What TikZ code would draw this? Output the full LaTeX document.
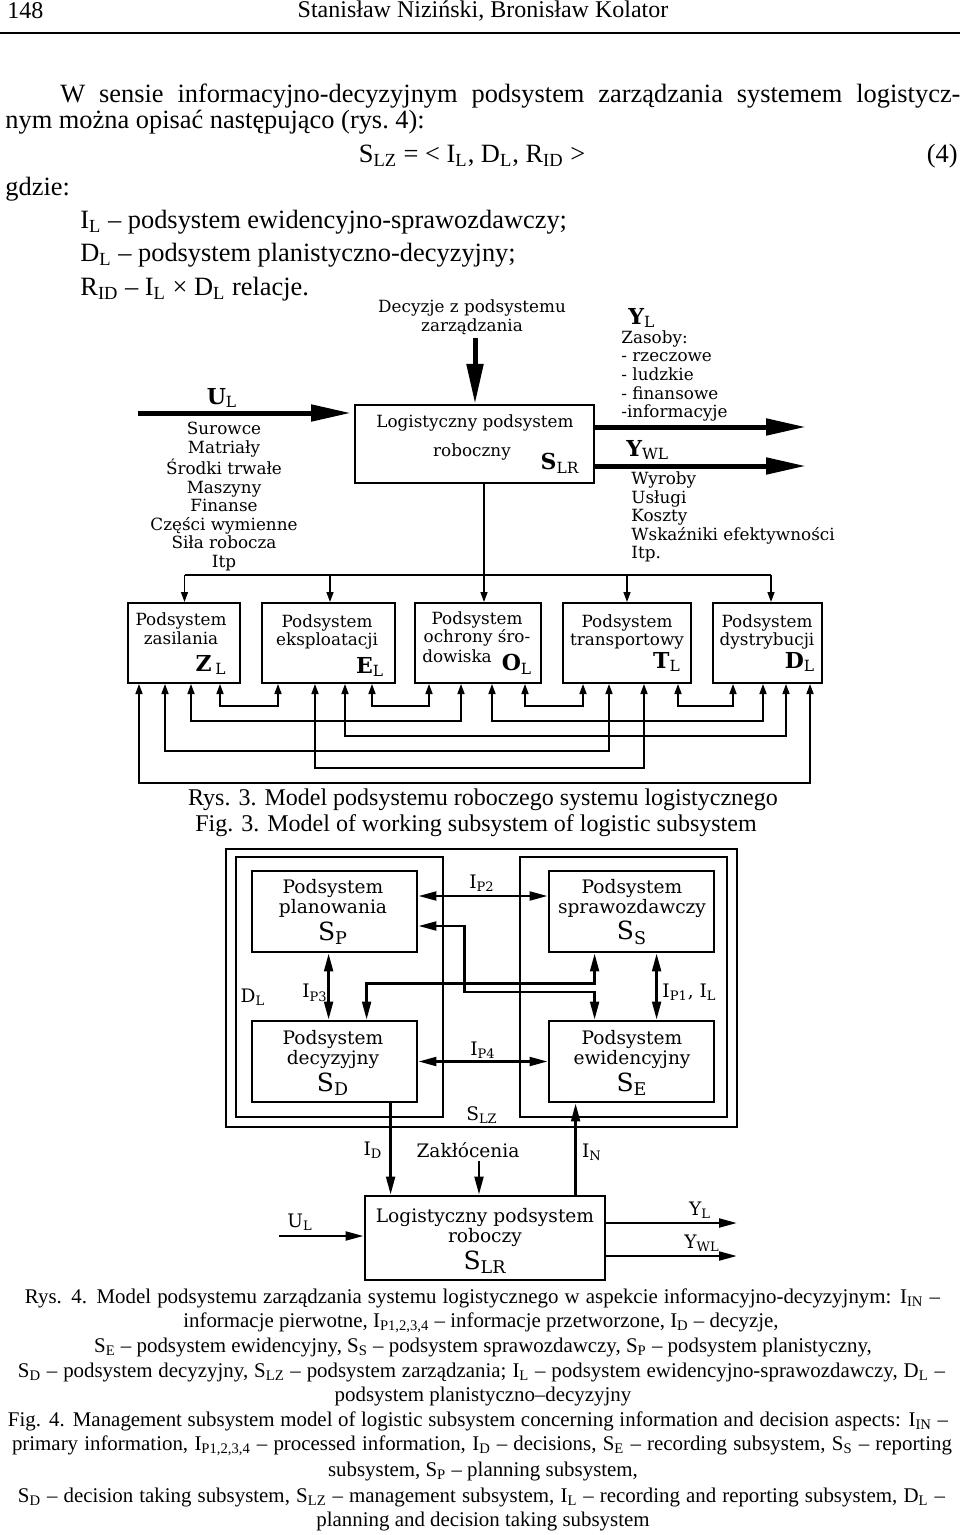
\documentclass[tikz,border=0pt]{standalone}
\usepackage{fontspec}
\setmainfont{Liberation Serif}
\newfontfamily\figfont{DejaVu Serif}
\usetikzlibrary{arrows.meta, calc, positioning}
\newcommand\lsub[1]{\textsubscript{#1}}

\tikzset {
    page text/.style = {inner sep = 0pt, font = \fontsize{13.2}{15}\selectfont},
    head text/.style = {inner sep = 0pt, font = \fontsize{12}{14}\selectfont},
    caption text/.style = {inner sep = 0pt, font = \fontsize{12}{14}\selectfont},
    legend text/.style = {inner sep = 0pt, font = \fontsize{10.45}{12}\selectfont},
    fig text/.style = {inner sep = 0pt, font = \figfont\fontsize{8.4}{9.3}\selectfont},
    fig mark/.style = {inner sep = 0pt, font = \figfont\bfseries\fontsize{11}{13}\selectfont},
    info text/.style = {inner sep = 0pt, font = \figfont\fontsize{9.3}{10}\selectfont},
    big mark/.style = {inner sep = 0pt, font = \figfont\fontsize{12.5}{14}\selectfont},
    work box/.style = {draw, line width = 1pt, inner sep = 0pt},
    info box/.style = {draw, line width = 1.4pt, inner sep = 0pt},
    big arrow/.style = {line width = 2.5pt, -{Triangle[length = 20pt, width = 8pt]}},
    bus line/.style = {line width = 0.75pt},
    bus arrow/.style = {line width = 0.75pt, -{Triangle[length = 5pt, width = 3.5pt]}},
    link arrow/.style = {
        line width = 0.75pt,
        {Triangle[length = 5pt, width = 3.5pt]}-{Triangle[length = 5pt, width = 3.5pt]}
    },
    info arrow/.style = {
        line width = 1.3pt,
        {Triangle[length = 9pt, width = 4.4pt]}-{Triangle[length = 9pt, width = 4.4pt]}
    },
    flow arrow/.style = {line width = 1.3pt, -{Triangle[length = 9pt, width = 4.4pt]}}
}

\begin{document}
\begin{tikzpicture}[x = 0.5pt, y = -0.5pt]
    \useasboundingbox[fill = white] (0, 0) rectangle (960, 1535);
    % page head and text
    \node[head text, anchor = west] (pnum) at (7, 11) {148};
    \node[head text] (pauth) at (483, 11) {Stanisław Niziński, Bronisław Kolator};
    \draw[line width = 0.8pt] (0, 33) -- (960, 33);
    \node[page text, anchor = west] (par1) at (60, 96)
        {\makebox[450pt][s]{W sensie informacyjno-decyzyjnym podsystem zarządzania systemem logistycz-}};
    \node[page text, anchor = west] (par2) at (5, 122) {nym można opisać następująco (rys.~4):};
    \node[page text] (eq) at (472, 156) {S\lsub{LZ} = < I\lsub{L}, D\lsub{L}, R\lsub{ID} >};
    \node[page text, anchor = east] (eqno) at (958, 156) {(4)};
    \node[page text, anchor = west] (gdzie) at (5, 189) {gdzie:};
    \node[page text, anchor = west] (def1) at (80, 222) {I\lsub{L} – podsystem ewidencyjno-sprawozdawczy;};
    \node[page text, anchor = west] (def2) at (80, 255) {D\lsub{L} – podsystem planistyczno-decyzyjny;};
    \node[page text, anchor = west] (def3) at (80, 289) {R\lsub{ID} – I\lsub{L} × D\lsub{L} relacje.};

    % rys. 3
    \node[fig text, align = center] (dec) at (472, 317) {Decyzje z podsystemu\\zarządzania};
    \node[work box, minimum width = 119.5pt, minimum height = 39pt] (slr) at (474.5, 444) {};
    \node[fig text] (slr1) at (475, 423) {Logistyczny podsystem};
    \node[fig text] (slr2) at (472, 452) {roboczny};
    \node[fig mark] (slrm) at (560, 463) {S\lsub{\mdseries LR}};
    \coordinate (dectop) at (475, 338);
    \draw[big arrow] (dectop) -- (dectop |- slr.north);
    % wejscie
    \node[fig mark] (ulm) at (222, 398) {U\lsub{\mdseries L}};
    \coordinate (uin) at (138, 413);
    \draw[big arrow] (uin) -- ([xshift = -1.5pt]uin -| slr.west);
    \node[fig text, align = center] (ulist) at (224, 496.5)
        {Surowce\\Matriały\\Środki trwałe\\Maszyny\\Finanse\\Części wymienne\\Siła robocza\\Itp};
    % wyjscia
    \coordinate (ylout) at (806, 427);
    \coordinate (ywout) at (806, 466);
    \draw[big arrow] (slr.east |- ylout) -- (ylout);
    \draw[big arrow] (slr.east |- ywout) -- (ywout);
    \node[fig mark, anchor = west] (ylm) at (628, 318) {Y\lsub{\mdseries L}};
    \node[fig text, anchor = west, align = left] (ylist) at (621, 376)
        {Zasoby:\\- rzeczowe\\- ludzkie\\- finansowe\\-informacyje};
    \node[fig mark, anchor = west] (ywm) at (626, 450) {Y\lsub{\mdseries WL}};
    \node[fig text, anchor = west, align = left] (ywlist) at (631, 517)
        {Wyroby\\Usługi\\Koszty\\Wskaźniki efektywności\\Itp.};

    % podsystemy
    \node[work box, minimum width = 56pt, minimum height = 40pt] (zas) at (184, 643) {};
    \node[work box, minimum width = 66.5pt, minimum height = 40pt] (eks) at (328.5, 643) {};
    \node[work box, minimum width = 63pt, minimum height = 40pt] (och) at (478, 643) {};
    \node[work box, minimum width = 64pt, minimum height = 40pt] (tra) at (627, 643) {};
    \node[work box, minimum width = 54.5pt, minimum height = 40pt] (dys) at (767.5, 643) {};
    \node[fig text, align = center] (zast) at (181, 629) {Podsystem\\zasilania};
    \node[fig mark] (zasm) at (211, 665) {Z\,\lsub{\mdseries L}};
    \node[fig text, align = center] (ekst) at (327, 632) {Podsystem\\eksploatacji};
    \node[fig mark] (eksm) at (370, 667) {E\lsub{\mdseries L}};
    \node[fig text, align = center] (ocht) at (477, 629) {Podsystem\\ochrony śro-};
    \node[fig text] (ocht2) at (457, 656) {dowiska};
    \node[fig mark] (ochm) at (517, 664) {O\lsub{\mdseries L}};
    \node[fig text, align = center] (trat) at (627, 632) {Podsystem\\transportowy};
    \node[fig mark] (tram) at (667, 662) {T\lsub{\mdseries L}};
    \node[fig text, align = center] (dyst) at (767, 632) {Podsystem\\dystrybucji};
    \node[fig mark] (dysm) at (800, 662) {D\lsub{\mdseries L}};

    % szyna decyzji
    \coordinate (bus) at (484, 575);
    \draw[bus line] (slr.south -| bus) -- (bus);
    \draw[bus line] (184.5, 575) -- (771, 575);
    \foreach \b/\x in {zas/184.5, eks/330, och/484, tra/627, dys/771} {
        \coordinate (top) at (\x, 575);
        \draw[bus arrow] (top) -- (top |- \b.north);
    }

    % powiazania dolne
    \foreach \b/\n/\o in {zas/z1/12, zas/z2/38, zas/z3/64, zas/z4/93,
                          eks/e1/17, eks/e2/54, eks/e3/84, eks/e4/111,
                          och/o1/15, och/o2/47, och/o3/78, och/o4/111,
                          tra/t1/21, tra/t2/47, tra/t3/82, tra/t4/116,
                          dys/d1/21, dys/d2/51, dys/d3/74, dys/d4/98}
        \coordinate (\n) at ($(\b.south west)+(\o, 0)$);
    \foreach \a/\c/\d in {z4/e1/22, e4/o1/22, o4/t1/22, t4/d1/22, z3/o2/37,
                          o3/d2/37, e3/d3/52, z2/t2/67, e2/t3/84, z1/d4/99}
        \draw[link arrow] (\a) -- ++(0, \d) -| (\c);

    \node[caption text] (cap3a) at (483, 800) {Rys. 3. Model podsystemu roboczego systemu logistycznego};
    \node[caption text] (cap3b) at (476, 826) {Fig. 3. Model of working subsystem of logistic subsystem};

    % rys. 4
    \node[info box, minimum width = 255.5pt, minimum height = 139pt] (slz) at (481.5, 988) {};
    \node[info box, minimum width = 103.5pt, minimum height = 130pt] (dl) at (339.5, 987) {};
    \node[info box, minimum width = 103.5pt, minimum height = 130pt] (il) at (623.5, 987) {};
    \node[info box, minimum width = 82.5pt, minimum height = 40.5pt] (sp) at (334.5, 911.5) {};
    \node[info box, minimum width = 82.5pt, minimum height = 40.5pt] (ss) at (631.5, 911.5) {};
    \node[info box, minimum width = 82.5pt, minimum height = 40.5pt] (sd) at (334.5, 1061.5) {};
    \node[info box, minimum width = 82.5pt, minimum height = 40.5pt] (se) at (631.5, 1061.5) {};
    \node[info text, align = center] (spt) at (333, 898) {Podsystem\\planowania};
    \node[big mark] (spm) at (333, 933) {S\lsub{P}};
    \node[info text, align = center] (sst) at (632, 898) {Podsystem\\sprawozdawczy};
    \node[big mark] (ssm) at (632, 933) {S\lsub{S}};
    \node[info text, align = center] (sdt) at (333, 1049) {Podsystem\\decyzyjny};
    \node[big mark] (sdm) at (333, 1084) {S\lsub{D}};
    \node[info text, align = center] (set) at (632, 1049) {Podsystem\\ewidencyjny};
    \node[big mark] (sem) at (632, 1084) {S\lsub{E}};

    \draw[info arrow] ($(sp.east)+(0, -15.5)$) -- ($(ss.west)+(0, -15.5)$);
    \node[info text] (ip2) at (482, 883) {I\lsub{P2}};
    \coordinate (ssd) at ($(ss.south west)+(47, 0)$);
    \coordinate (sdn) at ($(sd.north west)+(116, 0)$);
    \draw[info arrow] (ssd) -- ++(0, 30) -| (sdn);
    \coordinate (spe) at ($(sp.east)+(0, 14.5)$);
    \coordinate (sen) at ($(se.north west)+(47, 0)$);
    \draw[info arrow] (spe) -- ++(46, 0) -- ++(0, 66) -| (sen);
    \draw[info arrow] ($(sp.south west)+(78, 0)$) -- ($(sd.north west)+(78, 0)$);
    \node[info text] (ip3) at (315, 993) {I\lsub{P3}};
    \node[info text] (dlm) at (253, 997) {D\lsub{L}};
    \draw[info arrow] ($(ss.south west)+(109, 0)$) -- ($(se.north west)+(109, 0)$);
    \node[info text, anchor = west] (ip1) at (662, 992) {I\lsub{P1}, I\lsub{L}};
    \draw[info arrow] (sd.east) -- (se.west);
    \node[info text] (ip4) at (483, 1050) {I\lsub{P4}};
    \node[info text] (slzm) at (482, 1115) {S\lsub{LZ}};

    % logistyczny podsystem roboczy
    \node[info box, minimum width = 120pt, minimum height = 42pt] (slr4) at (485, 1238) {};
    \node[info text, align = center] (slr4t) at (485, 1227) {Logistyczny podsystem\\roboczy};
    \node[big mark] (slr4m) at (485, 1262) {S\lsub{LR}};
    \coordinate (sds) at ($(sd.south west)+(140, 0)$);
    \draw[flow arrow] (sds) -- (sds |- slr4.north);
    \node[info text] (idm) at (373, 1150) {I\lsub{D}};
    \coordinate (seb) at ($(se.south west)+(28, 0)$);
    \draw[flow arrow] (seb |- slr4.north) -- (seb);
    \node[info text] (inm) at (592, 1152) {I\lsub{N}};
    \node[info text] (zak) at (468, 1150) {Zakłócenia};
    \coordinate (zakb) at (479, 1161);
    \draw[flow arrow] (zakb) -- (zakb |- slr4.north);
    \coordinate (ul4) at (279, 1236);
    \draw[flow arrow] (ul4) -- (ul4 -| slr4.west);
    \node[info text] (ul4m) at (300, 1222) {U\lsub{L}};
    \coordinate (yl4) at (737, 1223);
    \coordinate (yw4) at (737, 1256);
    \draw[flow arrow] (yl4 -| slr4.east) -- (yl4);
    \draw[flow arrow] (yw4 -| slr4.east) -- (yw4);
    \node[info text] (yl4m) at (700, 1210) {Y\lsub{L}};
    \node[info text] (yw4m) at (702, 1243) {Y\lsub{WL}};

    % podpis rys. 4
    \node[legend text] (cap4a) at (482.5, 1298)
        {\makebox[457.5pt][s]{Rys. 4. Model podsystemu zarządzania systemu logistycznego w aspekcie informacyjno-decyzyjnym: I\lsub{IN} –}};
    \node[legend text] (cap4b) at (481, 1323)
        {informacje pierwotne, I\lsub{P1,2,3,4} – informacje przetworzone, I\lsub{D} – decyzje,};
    \node[legend text] (cap4c) at (483, 1347)
        {S\lsub{E} – podsystem ewidencyjny, S\lsub{S} – podsystem sprawozdawczy, S\lsub{P} – podsystem planistyczny,};
    \node[legend text] (cap4d) at (481.5, 1372)
        {\makebox[463.5pt][s]{S\lsub{D} – podsystem decyzyjny, S\lsub{LZ} – podsystem zarządzania; I\lsub{L} – podsystem ewidencyjno-sprawozdawczy, D\lsub{L} –}};
    \node[legend text] (cap4e) at (483, 1396) {podsystem planistyczno–decyzyjny};
    \node[legend text] (cap4f) at (478, 1421)
        {\makebox[470pt][s]{Fig. 4. Management subsystem model of logistic subsystem concerning information and decision aspects: I\lsub{IN} –}};
    \node[legend text] (cap4g) at (482, 1446)
        {\makebox[470pt][s]{primary information, I\lsub{P1,2,3,4} – processed information, I\lsub{D} – decisions, S\lsub{E} – recording subsystem, S\lsub{S} – reporting}};
    \node[legend text] (cap4h) at (483, 1471) {subsystem, S\lsub{P} – planning subsystem,};
    \node[legend text] (cap4i) at (481.5, 1497)
        {\makebox[463.5pt][s]{S\lsub{D} – decision taking subsystem, S\lsub{LZ} – management subsystem, I\lsub{L} – recording and reporting subsystem, D\lsub{L} –}};
    \node[legend text] (cap4j) at (483, 1521) {planning and decision taking subsystem};
\end{tikzpicture}
\end{document}
